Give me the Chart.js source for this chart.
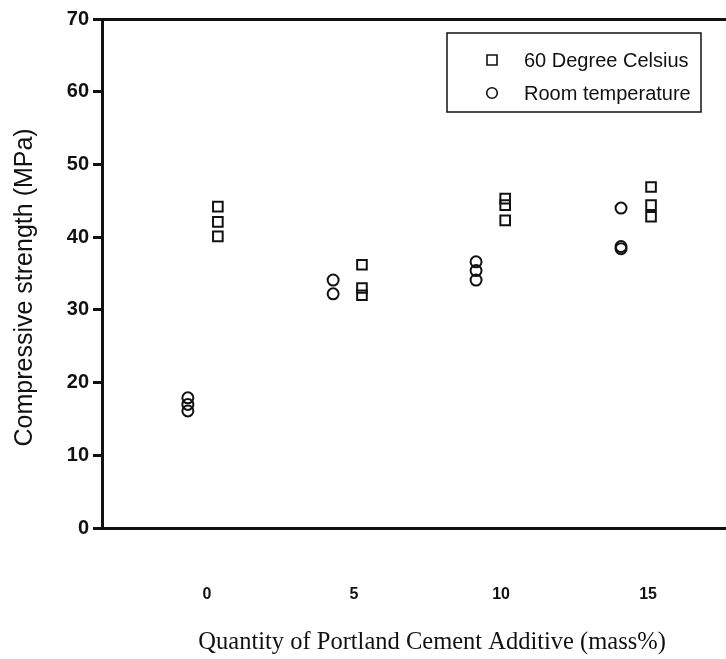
<!DOCTYPE html>
<html>
<head>
<meta charset="utf-8">
<script src="https://cdn.jsdelivr.net/npm/chart.js@4.4.0/dist/chart.umd.min.js"></script>
<style>
  html, body { margin: 0; padding: 0; background: #fff; overflow: hidden; }
  #wrap { width: 771px; height: 659px; }
</style>
</head>
<body>
<div id="wrap"><canvas id="chart"></canvas></div>
<script>
// x tick labels (mass% of Portland cement)
const xTicks = [0, 5, 10, 15];
const yTicks = [0, 10, 20, 30, 40, 50, 60, 70];

// 60 degree celsius curing - x position of each column and its readings (MPa)
const hotX = [0.37, 5.27, 10.14, 15.1];
const hotValues = [
  [44.2, 42.1, 40.1],
  [36.2, 33.0, 32.0],
  [45.3, 44.4, 42.3],
  [46.9, 44.4, 42.8]
];

// room temperature curing
const roomX = [-0.65, 4.29, 9.15, 14.08];
const roomValues = [
  [17.9, 17.0, 16.1],
  [34.1, 32.2],
  [36.6, 35.4, 34.1],
  [44.0, 38.7, 38.4]
];

const seriesNames = ['60 Degree Celsius', 'Room temperature'];

function toPoints(xs, groups) {
  const pts = [];
  groups.forEach((vals, i) => vals.forEach(v => pts.push({ x: xs[i], y: v })));
  return pts;
}

// legend drawn inside the plot, boxed like the original figure
const boxLegend = {
  id: 'boxLegend',
  afterDraw(chart) {
    const ctx = chart.ctx;
    ctx.save();
    ctx.strokeStyle = '#111';
    ctx.lineWidth = 1.5;
    ctx.strokeRect(447, 33, 254, 79);
    ctx.font = '20px "Liberation Sans", Arial, sans-serif';
    ctx.fillStyle = '#111';
    ctx.textBaseline = 'middle';
    const rows = [60, 93];
    chart.data.datasets.forEach((ds, i) => {
      const y = rows[i];
      ctx.lineWidth = 1.6;
      ctx.beginPath();
      if (ds.pointStyle === 'rect') {
        ctx.rect(487, y - 5, 10, 10);
      } else {
        ctx.arc(492, y, 5.3, 0, Math.PI * 2);
      }
      ctx.stroke();
      ctx.fillText(ds.label, 524, y + 1);
    });
    ctx.restore();
  }
};

new Chart(document.getElementById('chart'), {
  type: 'scatter',
  data: {
    datasets: [
      {
        label: seriesNames[0],
        data: toPoints(hotX, hotValues),
        pointStyle: 'rect',
        pointRadius: 6.8,
        borderColor: '#111',
        backgroundColor: 'transparent',
        borderWidth: 2
      },
      {
        label: seriesNames[1],
        data: toPoints(roomX, roomValues),
        pointStyle: 'circle',
        pointRadius: 5.5,
        borderColor: '#111',
        backgroundColor: 'transparent',
        borderWidth: 2
      }
    ]
  },
  options: {
    responsive: true,
    maintainAspectRatio: false,
    animation: false,
    layout: { padding: { top: 19, left: 0, right: 0, bottom: 2 } },
    plugins: { legend: { display: false }, tooltip: { enabled: false } },
    scales: {
      x: {
        type: 'linear',
        min: -3.57,
        max: 18.88,
        afterBuildTicks: s => { s.ticks = xTicks.map(v => ({ value: v })); },
        afterFit: s => { s.height = 129; },
        grid: { display: false, drawTicks: false },
        border: { color: '#111', width: 3 },
        ticks: {
          color: '#111',
          padding: 57,
          font: { family: '"Liberation Sans", Arial, sans-serif', size: 16, weight: 'bold' }
        },
        title: {
          display: true,
          text: 'Quantity of Portland Cement Additive (mass%)',
          color: '#111',
          padding: { top: 0, bottom: 0 },
          font: { family: '"Liberation Serif", "Times New Roman", serif', size: 24.5 }
        }
      },
      y: {
        min: 0,
        max: 70,
        afterBuildTicks: s => { s.ticks = yTicks.map(v => ({ value: v })); },
        afterFit: s => { s.width = 102; },
        grid: {
          drawOnChartArea: true,
          color: c => (c.tick && c.tick.value === 70 ? '#111' : 'transparent'),
          lineWidth: 3,
          tickColor: '#111',
          tickLength: 9,
          tickWidth: 3
        },
        border: { color: '#111', width: 3 },
        ticks: {
          color: '#111',
          padding: 4,
          font: { family: '"Liberation Sans", Arial, sans-serif', size: 20, weight: 'bold' }
        },
        title: {
          display: true,
          text: 'Compressive strength (MPa)    ',
          color: '#111',
          padding: { top: 10, bottom: 0 },
          font: { family: '"Liberation Sans", Arial, sans-serif', size: 25 }
        }
      }
    }
  },
  plugins: [boxLegend]
});
</script>
</body>
</html>
